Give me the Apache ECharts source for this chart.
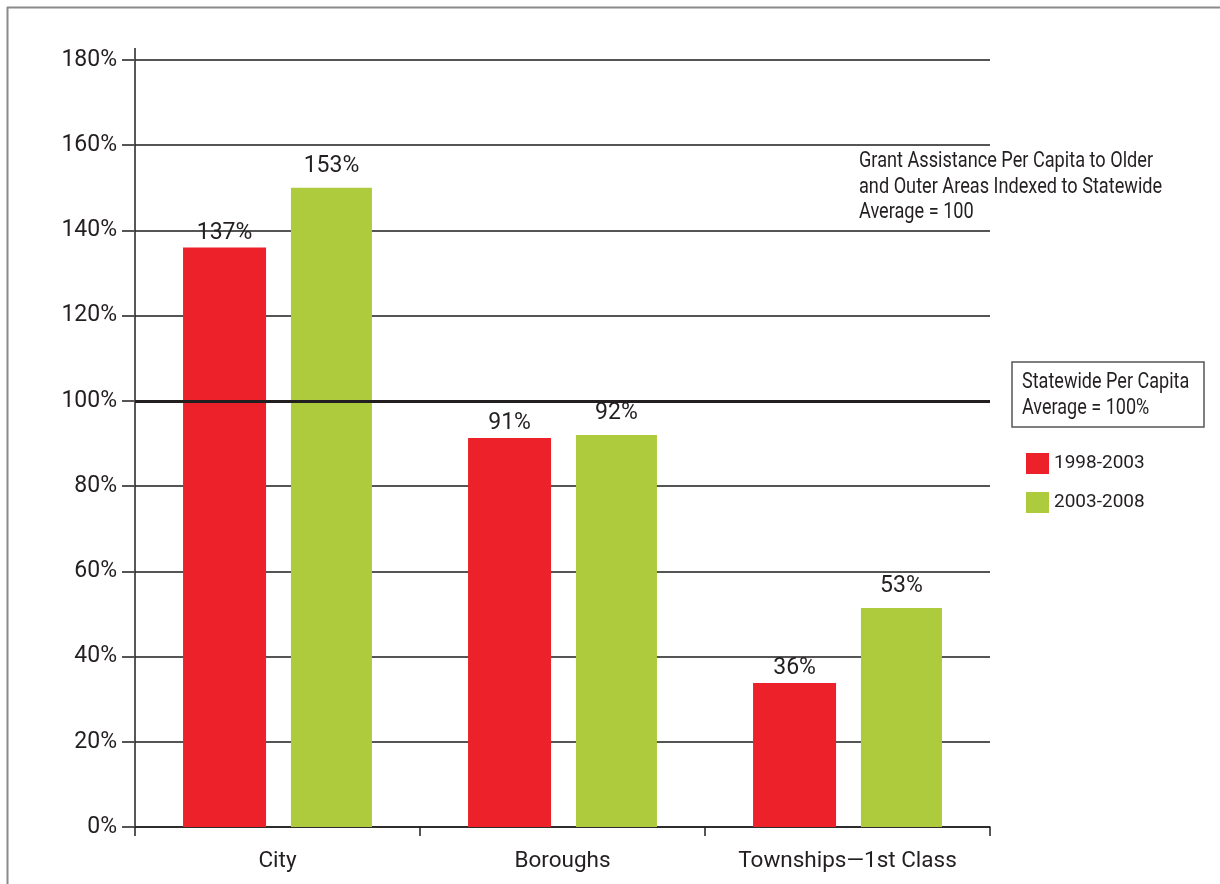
<!DOCTYPE html>
<html>
<head>
<meta charset="utf-8">
<script src="https://cdn.jsdelivr.net/npm/echarts@6/dist/echarts.min.js"></script>
<style>
html,body{margin:0;padding:0;background:#fff;}
#chart{width:1220px;height:884px;}
</style>
</head>
<body>
<div id="chart"></div>
<script>
// ---- data ----
const categories = ['City', 'Boroughs', 'Townships\u20141st Class'];
const seriesNames = ['1998-2003', '2003-2008'];
const values1998 = [136, 91.3, 33.8];   // bar heights as drawn
const values2003 = [150, 92, 51.4];
const labels1998 = ['137%', '91%', '36%']; // printed labels
const labels2003 = ['153%', '92%', '53%'];
const yTicks = [0, 20, 40, 60, 80, 100, 120, 140, 160, 180];
const referenceLine = 100;
const noteText = 'Grant Assistance Per Capita to Older\nand Outer Areas Indexed to Statewide\nAverage = 100';
const boxText = 'Statewide Per Capita\nAverage = 100%';

const TXT = '#231f20';
const RED = '#ed2129';
const GREEN = '#adcb3c';
const FONT = 'Roboto, "Noto Sans", sans-serif';

const chart = echarts.init(document.getElementById('chart'), null, {renderer: 'canvas'});

chart.setOption({
  backgroundColor: '#fff',
  animation: false,
  legend: {
    data: seriesNames,
    orient: 'vertical',
    left: 1026, top: 453, padding: 0,
    itemWidth: 23, itemHeight: 21, itemGap: 18,
    icon: 'rect',
    textStyle: {fontFamily: FONT, fontSize: 19, color: TXT}
  },
  grid: {left: 135, right: 230, top: 60, bottom: 57, containLabel: false},
  xAxis: {
    type: 'category',
    data: categories,
    axisLine: {show: true, lineStyle: {color: TXT, width: 1.5}},
    axisTick: {show: true, length: 9, lineStyle: {color: TXT, width: 1.5}},
    axisLabel: {margin: 23, fontFamily: FONT, fontSize: 22.5, color: TXT}
  },
  yAxis: {
    type: 'value',
    min: yTicks[0], max: yTicks[yTicks.length - 1], interval: yTicks[1] - yTicks[0],
    axisLine: {show: true, lineStyle: {color: TXT, width: 1.5}},
    axisTick: {show: true, inside: false, length: 13, lineStyle: {color: '#555', width: 2}},
    axisLabel: {margin: 18, fontFamily: FONT, fontSize: 23, color: TXT, formatter: v => v + '%'},
    splitLine: {show: true, lineStyle: {color: '#555', width: 2}}
  },
  series: [
    {
      name: seriesNames[0], type: 'bar', data: values1998,
      barWidth: 83, barGap: '30%',
      itemStyle: {color: RED},
      label: {show: true, position: 'top', distance: 3, fontFamily: FONT, fontSize: 23, color: TXT,
              formatter: p => labels1998[p.dataIndex]},
      markLine: {
        silent: true, symbol: 'none', label: {show: false},
        lineStyle: {color: TXT, width: 3, type: 'solid'},
        data: [{yAxis: referenceLine}]
      }
    },
    {
      name: seriesNames[1], type: 'bar', data: values2003,
      barWidth: 81,
      itemStyle: {color: GREEN},
      label: {show: true, position: 'top', distance: 10, fontFamily: FONT, fontSize: 23, color: TXT,
              formatter: p => labels2003[p.dataIndex]}
    }
  ],
  graphic: [
    {type: 'line', shape: {x1: 7, y1: 7.5, x2: 1220, y2: 7.5}, style: {stroke: '#8a8a8a', lineWidth: 2}, silent: true},
    {type: 'line', shape: {x1: 7.5, y1: 7, x2: 7.5, y2: 884}, style: {stroke: '#8a8a8a', lineWidth: 2}, silent: true},
    {type: 'line', shape: {x1: 135, y1: 48, x2: 135, y2: 60}, style: {stroke: TXT, lineWidth: 1.5}, silent: true},
    {type: 'text', x: 859, y: 149, scaleX: 0.825, silent: true,
     style: {text: noteText, fontFamily: FONT, fontSize: 22, fill: TXT, lineHeight: 25.5, verticalAlign: 'top'}},
    {type: 'rect', shape: {x: 1012, y: 362, width: 192, height: 65}, style: {fill: '#fff', stroke: '#555', lineWidth: 1.5}, silent: true},
    {type: 'text', x: 1022, y: 369, scaleX: 0.82, silent: true,
     style: {text: boxText, fontFamily: FONT, fontSize: 22, fill: TXT, lineHeight: 26, verticalAlign: 'top'}}
  ]
});
</script>
</body>
</html>
